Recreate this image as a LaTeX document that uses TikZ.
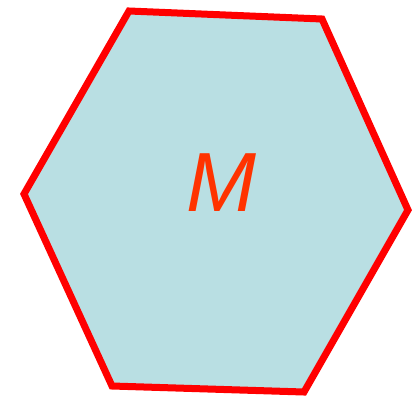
\documentclass[tikz,border=0pt]{standalone}
\usepackage{fontspec}
\setmainfont{Liberation Sans}
\definecolor{hexfill}{HTML}{B9DFE3}
\definecolor{hexline}{HTML}{FF0000}
\definecolor{mtext}{HTML}{FF3300}
\tikzset{hexbox/.style={draw=hexline,fill=hexfill,line width=7pt,line join=miter}}
\begin{document}
\begin{tikzpicture}[x=1pt,y=-1pt]
\useasboundingbox (0,0) rectangle (414,399);
\coordinate (a) at (129,11);
\coordinate (b) at (322,19);
\coordinate (c) at (408,210);
\coordinate (d) at (304,392);
\coordinate (e) at (112,386);
\coordinate (f) at (24,194);
\draw[hexbox] (a) -- (b) -- (c) -- (d) -- (e) -- (f) -- cycle;
\node[text=mtext,inner sep=0] (m) at (221,183) {\fontsize{84}{84}\selectfont\itshape M};
\end{tikzpicture}
\end{document}
